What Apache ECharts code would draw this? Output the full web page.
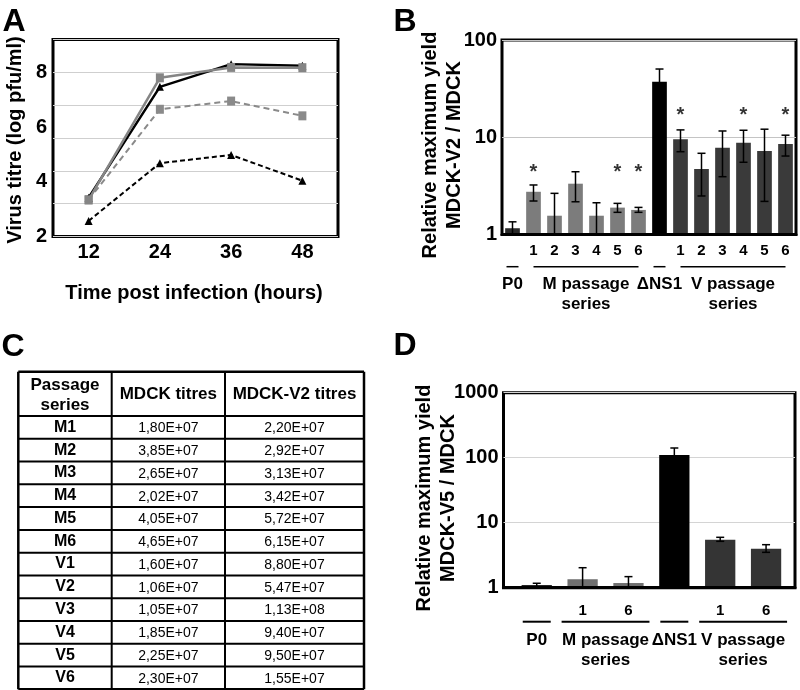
<!DOCTYPE html>
<html><head><meta charset="utf-8">
<script src="https://cdn.jsdelivr.net/npm/echarts@6/dist/echarts.min.js"></script>
<style>html,body{margin:0;padding:0;background:#fff}#c{width:800px;height:690px}</style>
</head><body><div id="c"></div>
<script>
const FONT = '"Liberation Sans", Arial, Helvetica, sans-serif';

// ---------- Panel A data ----------
const hoursA = ['12', '24', '36', '48'];
const graySolidA = [3.34, 7.80, 8.18, 8.17];
const blackSolidA = [3.42, 7.47, 8.30, 8.24];
const grayDashA = [3.34, 6.65, 6.95, 6.41];
const blackDashA = [2.57, 4.68, 4.98, 4.04];

// ---------- Panel B data ----------
const catsB = ['P0', 'M1', 'M2', 'M3', 'M4', 'M5', 'M6', 'ΔNS1', 'V1', 'V2', 'V3', 'V4', 'V5', 'V6'];
const tickLabelsB = ['', '1', '2', '3', '4', '5', '6', '', '1', '2', '3', '4', '5', '6'];
const groupOfB = ['P0', 'M', 'M', 'M', 'M', 'M', 'M', 'NS1', 'V', 'V', 'V', 'V', 'V', 'V'];
const valuesB = [1.16, 2.75, 1.56, 3.33, 1.56, 1.89, 1.79, 37.3, 9.53, 4.72, 7.81, 8.79, 7.22, 8.53];
const errHighB = [1.35, 3.23, 2.65, 4.42, 2.12, 2.09, 1.90, 50.3, 11.9, 6.84, 11.6, 11.8, 12.1, 10.5];
const errLowB = [1.0, 2.21, 1.0, 2.17, 1.0, 1.69, 1.69, 27.8, 7.1, 2.49, 3.93, 5.53, 2.19, 6.41];
const starCatsB = ['M1', 'M5', 'M6', 'V1', 'V4', 'V6'];
const starLevelB = [4.94, 4.94, 4.94, 18.8, 18.8, 18.8];
const groupNamesB = ['P0', 'M passage\nseries', 'ΔNS1', 'V passage\nseries'];

// ---------- Panel C data ----------
const tableHeader = ['Passage\nseries', 'MDCK titres', 'MDCK-V2 titres'];
const passageSeries = ['M1', 'M2', 'M3', 'M4', 'M5', 'M6', 'V1', 'V2', 'V3', 'V4', 'V5', 'V6'];
const mdckTitres = ['1,80E+07', '3,85E+07', '2,65E+07', '2,02E+07', '4,05E+07', '4,65E+07', '1,60E+07', '1,06E+07', '1,05E+07', '1,85E+07', '2,25E+07', '2,30E+07'];
const mdckV2Titres = ['2,20E+07', '2,92E+07', '3,13E+07', '3,42E+07', '5,72E+07', '6,15E+07', '8,80E+07', '5,47E+07', '1,13E+08', '9,40E+07', '9,50E+07', '1,55E+07'];

// ---------- Panel D data ----------
const catsD = ['P0', 'M1', 'M6', 'ΔNS1', 'V1', 'V6'];
const tickLabelsD = ['', '1', '6', '', '1', '6'];
const groupOfD = ['P0', 'M', 'M', 'NS1', 'V', 'V'];
const valuesD = [1.10, 1.35, 1.18, 110, 5.47, 3.98];
const errHighD = [1.17, 2.03, 1.48, 141, 5.96, 4.59];
const errLowD = [1.0, 1.0, 1.0, 92, 5.17, 3.5];
const groupNamesD = ['P0', 'M passage\nseries', 'ΔNS1', 'V passage\nseries'];

// ---------- styles ----------
const colorsB = { P0: '#2a2a2a', M: '#7c7c7c', NS1: '#000000', V: '#3a3a3a' };
const colorsD = { P0: '#252525', M: '#707070', NS1: '#000000', V: '#343434' };
const boldLbl = (size, margin) => ({ fontFamily: FONT, fontWeight: 'bold', fontSize: size, color: '#000', margin: margin });
const plain = v => String(v);

function errRender(params, api) {
  const x = api.value(0);
  const pHi = api.coord([x, api.value(2)]);
  const pLo = api.coord([x, api.value(1)]);
  const cap = 4;
  const st = { stroke: '#000', lineWidth: 1.5 };
  return {
    type: 'group', children: [
      { type: 'line', shape: { x1: pHi[0], y1: pHi[1], x2: pLo[0], y2: pLo[1] }, style: st },
      { type: 'line', shape: { x1: pHi[0] - cap, y1: pHi[1], x2: pHi[0] + cap, y2: pHi[1] }, style: st },
      { type: 'line', shape: { x1: pLo[0] - cap, y1: pLo[1], x2: pLo[0] + cap, y2: pLo[1] }, style: st }
    ]
  };
}

const chart = echarts.init(document.getElementById('c'), null, { renderer: 'canvas' });

const option = {
  animation: false,
  backgroundColor: '#fff',
  grid: [
    { left: 53, top: 39.5, width: 285, height: 197, show: true, borderColor: '#000', borderWidth: 3, backgroundColor: 'transparent' },
    { left: 502, top: 40, width: 294, height: 194.5, show: true, borderColor: '#000', borderWidth: 3, backgroundColor: 'transparent' },
    { left: 503.5, top: 392.7, width: 291.5, height: 195, show: true, borderColor: '#000', borderWidth: 3, backgroundColor: 'transparent' },
    { left: 513.8, top: 392.7, width: 275.2, height: 195 }
  ],
  xAxis: [
    { gridIndex: 0, type: 'category', data: hoursA, boundaryGap: true, axisLine: { show: false }, axisTick: { show: false }, axisLabel: boldLbl(20, 6) },
    { gridIndex: 1, type: 'category', data: catsB, z: 10,
      axisLine: { show: true, lineStyle: { color: '#000', width: 3 } }, axisTick: { show: false },
      axisLabel: Object.assign(boldLbl(15, 9), { interval: 0, formatter: (v, i) => tickLabelsB[i] }) },
    { gridIndex: 2, type: 'value', min: 0, max: 1, z: 10,
      axisLine: { show: true, lineStyle: { color: '#000', width: 3 } }, axisTick: { show: false },
      axisLabel: { show: false }, splitLine: { show: false } },
    { gridIndex: 3, type: 'category', data: catsD, axisLine: { show: false }, axisTick: { show: false },
      axisLabel: Object.assign(boldLbl(15, 16), { interval: 0, formatter: (v, i) => tickLabelsD[i] }) }
  ],
  yAxis: [
    { gridIndex: 0, type: 'value', position: 'left', min: 2, max: 9.2, interval: 1.2, axisLine: { show: false }, axisTick: { show: false },
      axisLabel: { show: false }, splitLine: { show: true, lineStyle: { color: '#cfcfcf', width: 1 } } },
    { gridIndex: 0, type: 'value', position: 'left', offset: 0, min: 2, max: 9.2, interval: 2, axisLine: { show: false }, axisTick: { show: false },
      axisLabel: Object.assign(boldLbl(20, 6), { showMaxLabel: false }), splitLine: { show: false } },
    { gridIndex: 1, type: 'log', logBase: 10, min: 1, max: 100, axisLine: { show: false }, axisTick: { show: false },
      axisLabel: Object.assign(boldLbl(20, 5), { formatter: plain }), splitLine: { show: true, lineStyle: { color: '#c4c4c4', width: 1 } } },
    { gridIndex: 2, type: 'log', logBase: 10, min: 1, max: 1000, axisLine: { show: false }, axisTick: { show: false },
      axisLabel: Object.assign(boldLbl(20, 5), { formatter: plain }), splitLine: { show: true, lineStyle: { color: '#d4d4d4', width: 1 } } },
    { gridIndex: 3, type: 'log', logBase: 10, min: 1, max: 1000, show: false }
  ],
  series: [
    { type: 'line', xAxisIndex: 0, yAxisIndex: 0, data: grayDashA, symbol: 'rect', symbolSize: [8, 9],
      lineStyle: { color: '#8a8a8a', width: 2, type: [6, 4] }, itemStyle: { color: '#8a8a8a' } },
    { type: 'line', xAxisIndex: 0, yAxisIndex: 0, data: blackDashA, symbol: 'triangle', symbolSize: 8,
      lineStyle: { color: '#000', width: 2, type: [5, 3] }, itemStyle: { color: '#000' } },
    { type: 'line', xAxisIndex: 0, yAxisIndex: 0, data: blackSolidA, symbol: 'triangle', symbolSize: 8,
      lineStyle: { color: '#000', width: 2.5 }, itemStyle: { color: '#000' } },
    { type: 'line', xAxisIndex: 0, yAxisIndex: 0, data: graySolidA, symbol: 'rect', symbolSize: [8, 9],
      lineStyle: { color: '#858585', width: 2.5 }, itemStyle: { color: '#858585' } },

    { type: 'bar', xAxisIndex: 1, yAxisIndex: 2, barCategoryGap: '30%',
      data: valuesB.map((v, i) => ({ value: v, itemStyle: { color: colorsB[groupOfB[i]] } })) },
    { type: 'custom', xAxisIndex: 1, yAxisIndex: 2, renderItem: errRender, z: 4,
      encode: { x: 0, y: [1, 2] },
      data: valuesB.map((v, i) => [i, errLowB[i], errHighB[i]]) },
    { type: 'scatter', xAxisIndex: 1, yAxisIndex: 2, symbolSize: 0, z: 5,
      data: starCatsB.map((c, k) => [catsB.indexOf(c), starLevelB[k]]),
      label: { show: true, position: 'inside', formatter: '*', fontFamily: FONT, fontWeight: 'bold', fontSize: 20, color: '#000', offset: [0, 5] } },

    { type: 'bar', xAxisIndex: 3, yAxisIndex: 4, barCategoryGap: '34%',
      data: valuesD.map((v, i) => ({ value: v, itemStyle: { color: colorsD[groupOfD[i]] } })) },
    { type: 'custom', xAxisIndex: 3, yAxisIndex: 4, renderItem: errRender, z: 4,
      encode: { x: 0, y: [1, 2] },
      data: valuesD.map((v, i) => [i, errLowD[i], errHighD[i]]) }
  ]
};
chart.setOption(option);

// ---------- annotations (titles, group labels, table) ----------
const els = [];
function txt(x, y, text, size, opts) {
  opts = opts || {};
  const va = opts.va || 'middle';
  els.push({
    type: 'text', x: x, y: y, rotation: opts.rot || 0, z: 20,
    style: {
      text: text, fill: '#000', font: (opts.weight || 'bold') + ' ' + size + 'px ' + FONT,
      textAlign: opts.align || 'center', textVerticalAlign: va,
      align: opts.align || 'center', verticalAlign: va,
      lineHeight: opts.lh || Math.round(size * 1.2)
    }
  });
}
function line(x1, y1, x2, y2, w) {
  els.push({ type: 'line', z: 20, shape: { x1, y1, x2, y2 }, style: { stroke: '#000', lineWidth: w } });
}

// panel letters
txt(14, 22, 'A', 32);
txt(405, 22, 'B', 32);
txt(13, 347, 'C', 32);
txt(405, 346, 'D', 32);

// axis titles
txt(15, 140, 'Virus titre (log pfu/ml)', 20, { rot: Math.PI / 2 });
txt(194, 293, 'Time post infection (hours)', 20);
txt(442, 145, 'Relative maximum yield\nMDCK-V2 / MDCK', 20, { rot: Math.PI / 2, lh: 24 });
txt(436, 498, 'Relative maximum yield\nMDCK-V5 / MDCK', 20, { rot: Math.PI / 2, lh: 24 });

// group labels under bar charts
function groups(groupOf) {
  const out = [];
  groupOf.forEach((g, i) => {
    if (out.length && out[out.length - 1].g === g) out[out.length - 1].last = i;
    else out.push({ g: g, first: i, last: i });
  });
  return out;
}
function groupLabels(axisIdx, groupOf, names, lineY, lineW, textTop, padSingle, padMulti) {
  groups(groupOf).forEach((grp, k) => {
    const x1 = chart.convertToPixel({ xAxisIndex: axisIdx }, grp.first);
    const x2 = chart.convertToPixel({ xAxisIndex: axisIdx }, grp.last);
    if (grp.first === grp.last) line(x1 - padSingle, lineY, x2 + padSingle, lineY, lineW);
    else line(x1 - padMulti, lineY, x2 + padMulti, lineY, lineW);
    txt((x1 + x2) / 2, textTop, names[k], 17, { lh: 20, va: 'top' });
  });
}
groupLabels(1, groupOfB, groupNamesB, 266.7, 1.5, 274, 6, 0);
groupLabels(3, groupOfD, groupNamesD, 621.7, 2, 630, 14, 21);

// table C
const tx0 = 18.3, tx1 = 364, colX = [18.3, 111.7, 225, 364];
const ty0 = 371.7, tyH = 416, rowH = (689.3 - 416) / passageSeries.length;
const ty1 = tyH + rowH * passageSeries.length;
line(tx0, ty0, tx1, ty0, 2.5);
line(tx0, ty1, tx1, ty1, 2.5);
line(tx0, ty0, tx0, ty1, 2.5);
line(tx1, ty0, tx1, ty1, 2.5);
line(colX[1], ty0, colX[1], ty1, 2);
line(colX[2], ty0, colX[2], ty1, 2);
line(tx0, tyH, tx1, tyH, 2);
for (let i = 1; i < passageSeries.length; i++) line(tx0, tyH + rowH * i, tx1, tyH + rowH * i, 2);
const colC = [0, 1, 2].map(c => (colX[c] + colX[c + 1]) / 2);
txt(colC[0], (ty0 + tyH) / 2 + 1, tableHeader[0], 17, { lh: 20 });
txt(colC[1], (ty0 + tyH) / 2, tableHeader[1], 17);
txt(colC[2], (ty0 + tyH) / 2, tableHeader[2], 17);
passageSeries.forEach((p, i) => {
  const cy = tyH + rowH * (i + 0.5);
  txt(colC[0], cy, p, 16);
  txt(colC[1], cy + 1, mdckTitres[i], 14, { weight: 'normal' });
  txt(colC[2], cy + 1, mdckV2Titres[i], 14, { weight: 'normal' });
});

chart.setOption({ graphic: { elements: els } });
</script>
</body></html>
